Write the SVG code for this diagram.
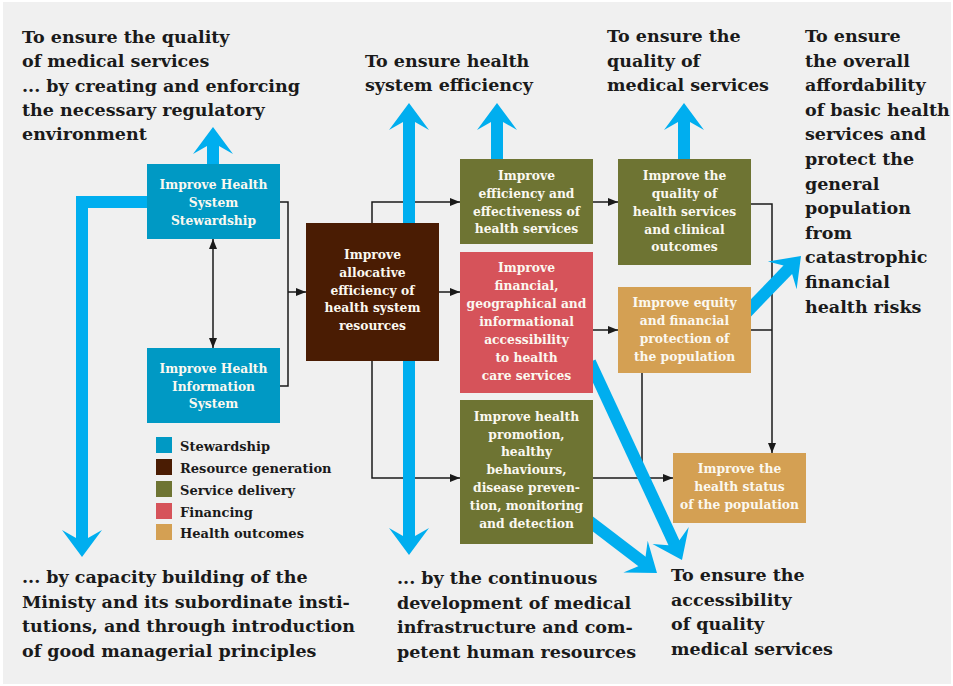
<svg xmlns="http://www.w3.org/2000/svg" width="953" height="686" viewBox="0 0 953 686">
  <style>
    .head { font-family: "DejaVu Serif", "Liberation Serif", serif; font-weight: bold; font-size: 17.5px; fill: #1a1a1a; }
    .lbl { font-family: "DejaVu Serif", "Liberation Serif", serif; font-weight: bold; font-size: 12.3px; fill: #fbf8f0; text-anchor: middle; }
    .leg { font-family: "DejaVu Serif", "Liberation Serif", serif; font-weight: bold; font-size: 13px; fill: #1a1a1a; }
    .wire { fill: none; stroke: #1a1a1a; stroke-width: 1.5; }
    .flow { fill: none; stroke: #00aeef; stroke-width: 12; stroke-linejoin: miter; }
    .stew { fill: #0099c4; }
    .res { fill: #4a1c03; }
    .serv { fill: #6e7433; }
    .fin { fill: #d6535a; }
    .out { fill: #d4a053; }
  </style>
  <defs>
    <marker id="ah" markerUnits="userSpaceOnUse" viewBox="0 0 10 8" markerWidth="10" markerHeight="8" refX="10" refY="4" orient="auto-start-reverse">
      <path d="M0,0 L10,4 L0,8 Z" fill="#1a1a1a"/>
    </marker>
    <marker id="bh" markerUnits="userSpaceOnUse" viewBox="0 -20 27 40" markerWidth="27" markerHeight="40" refX="9" refY="0" orient="auto-start-reverse" overflow="visible">
      <path d="M0,-20 L27,0 L0,20 L8,6 L8,-6 Z" fill="#00aeef"/>
    </marker>
  </defs>

  <!-- panel -->
  <rect width="953" height="686" fill="#ffffff"/>
  <rect x="3" y="2" width="948" height="682" fill="#f0f0f0"/>

  <!-- goal texts -->
  <g id="goal-regulation">
    <text class="head" x="22" y="43">To ensure the quality</text>
    <text class="head" x="22" y="67.3">of medical services</text>
    <text class="head" x="22" y="91.6">... by creating and enforcing</text>
    <text class="head" x="22" y="115.9">the necessary regulatory</text>
    <text class="head" x="22" y="140.2">environment</text>
  </g>
  <g id="goal-efficiency">
    <text class="head" x="365" y="66.6">To ensure health</text>
    <text class="head" x="365" y="91.2">system efficiency</text>
  </g>
  <g id="goal-quality">
    <text class="head" x="607" y="42">To ensure the</text>
    <text class="head" x="607" y="66.6">quality of</text>
    <text class="head" x="607" y="91.2">medical services</text>
  </g>
  <g id="goal-affordability">
    <text class="head" x="805" y="42">To ensure</text>
    <text class="head" x="805" y="66.6">the overall</text>
    <text class="head" x="805" y="91.2">affordability</text>
    <text class="head" x="805" y="115.8">of basic health</text>
    <text class="head" x="805" y="140.4">services and</text>
    <text class="head" x="805" y="165">protect the</text>
    <text class="head" x="805" y="189.6">general</text>
    <text class="head" x="805" y="214.2">population</text>
    <text class="head" x="805" y="238.8">from</text>
    <text class="head" x="805" y="263.4">catastrophic</text>
    <text class="head" x="805" y="288">financial</text>
    <text class="head" x="805" y="312.6">health risks</text>
  </g>
  <g id="goal-capacity">
    <text class="head" x="22" y="583">... by capacity building of the</text>
    <text class="head" x="22" y="607.5">Ministy and its subordinate insti-</text>
    <text class="head" x="22" y="632">tutions, and through introduction</text>
    <text class="head" x="22" y="656.5">of good managerial principles</text>
  </g>
  <g id="goal-infrastructure">
    <text class="head" x="397" y="584">... by the continuous</text>
    <text class="head" x="397" y="608.5">development of medical</text>
    <text class="head" x="397" y="633">infrastructure and com-</text>
    <text class="head" x="397" y="657.5">petent human resources</text>
  </g>
  <g id="goal-accessibility">
    <text class="head" x="671" y="581">To ensure the</text>
    <text class="head" x="671" y="605.5">accessibility</text>
    <text class="head" x="671" y="630">of quality</text>
    <text class="head" x="671" y="654.5">medical services</text>
  </g>

  <!-- connectors -->
  <g id="connectors">
    <path class="wire" d="M280,202 H288 V386 H280"/>
    <path class="wire" d="M288,292 H306" marker-end="url(#ah)"/>
    <path class="wire" d="M213,239 V348" marker-start="url(#ah)" marker-end="url(#ah)"/>
    <path class="wire" d="M372,223 V202 H460" marker-end="url(#ah)"/>
    <path class="wire" d="M439,292 H460" marker-end="url(#ah)"/>
    <path class="wire" d="M372,361 V478 H460" marker-end="url(#ah)"/>
    <path class="wire" d="M593,202 H618" marker-end="url(#ah)"/>
    <path class="wire" d="M593,330 H618" marker-end="url(#ah)"/>
    <path class="wire" d="M751,204 H772 V453" marker-end="url(#ah)"/>
    <path class="wire" d="M751,330 H772"/>
    <path class="wire" d="M642,373 V478"/>
    <path class="wire" d="M593,478 H673" marker-end="url(#ah)"/>

    <!-- broad goal arrows -->
    <path class="flow" d="M150,202 H82 V539" marker-end="url(#bh)"/>
    <path class="flow" d="M213,166 V145" marker-end="url(#bh)"/>
    <path class="flow" d="M409,121 V537" marker-start="url(#bh)" marker-end="url(#bh)"/>
    <path class="flow" d="M497,161 V121" marker-end="url(#bh)"/>
    <path class="flow" d="M684,161 V121" marker-end="url(#bh)"/>
    <path class="flow" d="M745,314 L788.5,269" marker-end="url(#bh)"/>
    <path class="flow" d="M590,362 L674.4,543.7" marker-end="url(#bh)"/>
    <path class="flow" d="M585,518 L642.7,562.1" marker-end="url(#bh)"/>
  </g>

  <!-- function boxes -->
  <g id="stewardship">
    <rect class="stew" x="147" y="164" width="133" height="75"/>
    <text class="lbl" x="213.5" y="189">Improve Health</text>
    <text class="lbl" x="213.5" y="207">System</text>
    <text class="lbl" x="213.5" y="225">Stewardship</text>
  </g>
  <g id="information-system">
    <rect class="stew" x="147" y="348" width="133" height="75"/>
    <text class="lbl" x="213.5" y="373">Improve Health</text>
    <text class="lbl" x="213.5" y="390.5">Information</text>
    <text class="lbl" x="213.5" y="408">System</text>
  </g>
  <g id="allocative-efficiency">
    <rect class="res" x="306" y="223" width="133" height="138"/>
    <text class="lbl" x="372.5" y="259">Improve</text>
    <text class="lbl" x="372.5" y="277">allocative</text>
    <text class="lbl" x="372.5" y="294.5">efficiency of</text>
    <text class="lbl" x="372.5" y="312">health system</text>
    <text class="lbl" x="372.5" y="330">resources</text>
  </g>
  <g id="service-efficiency">
    <rect class="serv" x="460" y="159" width="133" height="85"/>
    <text class="lbl" x="526.5" y="180">Improve</text>
    <text class="lbl" x="526.5" y="198">efficiency and</text>
    <text class="lbl" x="526.5" y="215.7">effectiveness of</text>
    <text class="lbl" x="526.5" y="233">health services</text>
  </g>
  <g id="accessibility">
    <rect class="fin" x="460" y="252" width="133" height="141"/>
    <text class="lbl" x="526.5" y="272">Improve</text>
    <text class="lbl" x="526.5" y="290">financial,</text>
    <text class="lbl" x="526.5" y="308">geographical and</text>
    <text class="lbl" x="526.5" y="326">informational</text>
    <text class="lbl" x="526.5" y="344">accessibility</text>
    <text class="lbl" x="526.5" y="362">to health</text>
    <text class="lbl" x="526.5" y="380">care services</text>
  </g>
  <g id="health-promotion">
    <rect class="serv" x="460" y="400" width="133" height="144"/>
    <text class="lbl" x="526.5" y="421">Improve health</text>
    <text class="lbl" x="526.5" y="438.5">promotion,</text>
    <text class="lbl" x="526.5" y="456">healthy</text>
    <text class="lbl" x="526.5" y="474">behaviours,</text>
    <text class="lbl" x="526.5" y="492">disease preven-</text>
    <text class="lbl" x="526.5" y="510">tion, monitoring</text>
    <text class="lbl" x="526.5" y="528">and detection</text>
  </g>
  <g id="service-quality">
    <rect class="serv" x="618" y="159" width="133" height="106"/>
    <text class="lbl" x="684.5" y="180">Improve the</text>
    <text class="lbl" x="684.5" y="198">quality of</text>
    <text class="lbl" x="684.5" y="216">health services</text>
    <text class="lbl" x="684.5" y="234">and clinical</text>
    <text class="lbl" x="684.5" y="251">outcomes</text>
  </g>
  <g id="financial-protection">
    <rect class="out" x="618" y="287" width="133" height="86"/>
    <text class="lbl" x="684.5" y="307">Improve equity</text>
    <text class="lbl" x="684.5" y="325">and financial</text>
    <text class="lbl" x="684.5" y="343">protection of</text>
    <text class="lbl" x="684.5" y="361">the population</text>
  </g>
  <g id="health-status">
    <rect class="out" x="673" y="453" width="133" height="70"/>
    <text class="lbl" x="739.5" y="473">Improve the</text>
    <text class="lbl" x="739.5" y="491">health status</text>
    <text class="lbl" x="739.5" y="509">of the population</text>
  </g>

  <!-- legend -->
  <g id="legend">
    <rect class="stew" x="156" y="437" width="16" height="16"/>
    <text class="leg" x="180" y="451">Stewardship</text>
    <rect class="res" x="156" y="459" width="16" height="16"/>
    <text class="leg" x="180" y="473">Resource generation</text>
    <rect class="serv" x="156" y="481" width="16" height="16"/>
    <text class="leg" x="180" y="495">Service delivery</text>
    <rect class="fin" x="156" y="503" width="16" height="16"/>
    <text class="leg" x="180" y="517">Financing</text>
    <rect class="out" x="156" y="524" width="16" height="16"/>
    <text class="leg" x="180" y="538">Health outcomes</text>
  </g>
</svg>
